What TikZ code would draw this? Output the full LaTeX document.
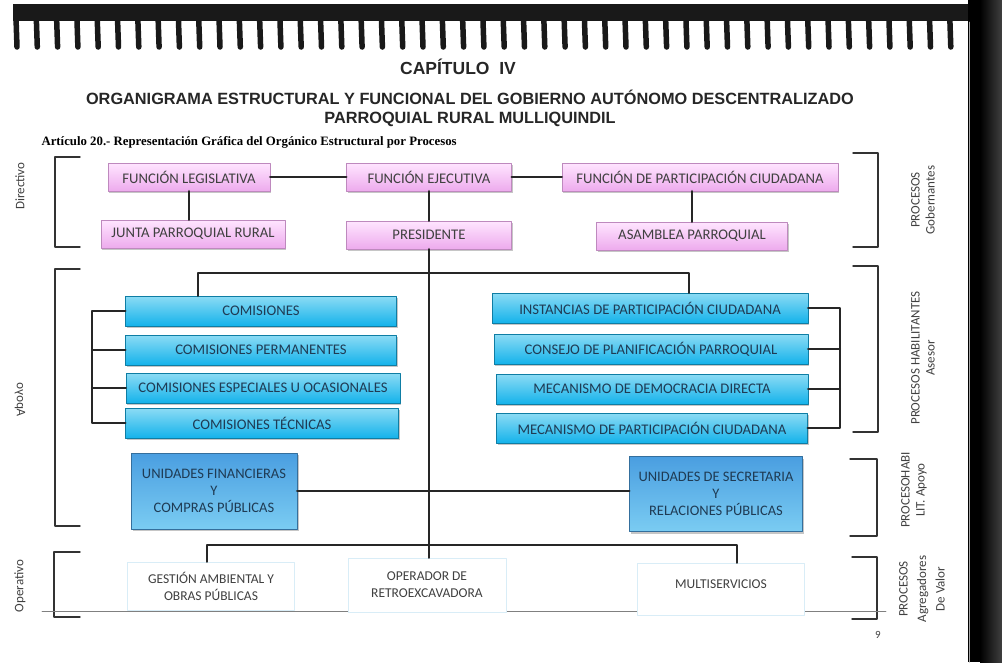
\documentclass[tikz,border=0pt]{standalone}
\usepackage{fontspec}
\setmainfont{Carlito}
\newfontfamily\titlefont{Liberation Sans}
\newfontfamily\artfont{Liberation Serif}
\usetikzlibrary{shadows}
\definecolor{ffe6ff}{rgb}{1,0.9,1}
\definecolor{eeaaee}{rgb}{0.93,0.67,0.93}
\definecolor{8cdcf5}{rgb}{0.55,0.86,0.96}
\definecolor{14b4ec}{rgb}{0.08,0.7,0.92}
\definecolor{4a9ee0}{rgb}{0.29,0.62,0.88}
\definecolor{7acdf2}{rgb}{0.48,0.8,0.95}
\definecolor{1f3a55}{rgb}{0.12,0.23,0.33}
\definecolor{qq4040}{rgb}{0.25,0.25,0.25}
\definecolor{d8eef8}{rgb}{0.85,0.93,0.97}
\tikzset{
  pinkbox/.style={top color=ffe6ff,bottom color=eeaaee,draw=eeaaee!80!black,line width=0.3pt,
    minimum height=28pt,inner sep=0pt,text=qq4040,font=\fontsize{14.7}{16}\selectfont,
    drop shadow={shadow xshift=1pt,shadow yshift=-2pt,opacity=0.45}},
  bluebox/.style={top color=8cdcf5,bottom color=14b4ec,draw=14b4ec!70!black,line width=0.3pt,
    minimum height=30pt,inner sep=0pt,text=1f3a55,font=\fontsize{14.7}{16}\selectfont,
    drop shadow={shadow xshift=1pt,shadow yshift=-2pt,opacity=0.45}},
  darkbox/.style={top color=4a9ee0,bottom color=7acdf2,draw=4a9ee0!70!black,line width=0.3pt,
    inner sep=0pt,text=1f3a55,align=center,font=\fontsize{14.5}{17}\selectfont,
    drop shadow={shadow xshift=1.5pt,shadow yshift=-2pt,opacity=0.45}},
  whitebox/.style={draw=d8eef8,fill=white,line width=0.6pt,inner sep=0pt,text=qq4040,
    align=center,font=\fontsize{13.5}{17}\selectfont},
  conn/.style={line width=2.4pt,color=black!85},
  brk/.style={line width=1.4pt,color=black!80},
  lbl/.style={text=qq4040,align=center,font=\fontsize{13}{15}\selectfont}
}
\begin{document}
\begin{tikzpicture}[line cap=round,line join=round,x=1pt,y=-1pt]
\useasboundingbox (0,0) rectangle (1002,662);
	% binding and page edge
	\fill[black!90] (13,4) rectangle (968,21);
	\foreach \i in {0,...,46}
		\draw[line width=5.5pt,color=black!90] ({16+20.3*\i},18) -- ({17+20.3*\i},47);
	\fill[black] (968,0) rectangle (1002,662);
	\fill[left color=black,right color=black!75] (980,0) rectangle (1002,662);
	\draw[gray!70,line width=1pt] (969.5,22) -- (969.5,662);
	% headings
	\node[font=\titlefont\bfseries\fontsize{17.5}{19}\selectfont,text=black!85] (cap) at (458,67) {CAPÍTULO\ \ IV};
	\node[font=\titlefont\bfseries\fontsize{16.3}{19}\selectfont,text=black!85,align=center] (tit) at (470,108)
		{ORGANIGRAMA ESTRUCTURAL Y FUNCIONAL DEL GOBIERNO AUTÓNOMO DESCENTRALIZADO\\PARROQUIAL RURAL MULLIQUINDIL};
	\node[font=\artfont\bfseries\fontsize{12.8}{14}\selectfont,anchor=west] (art) at (38,142)
		{Artículo 20.- Representación Gráfica del Orgánico Estructural por Procesos};
	% brackets
	\draw[brk] (80,157) -- (55,157) -- (55,247) -- (80,247);
	\draw[brk] (80,269) -- (55,269) -- (55,526) -- (80,526);
	\draw[brk] (80,552) -- (54,552) -- (54,617) -- (80,617);
	\draw[brk] (853,153) -- (878,153) -- (878,247) -- (853,247);
	\draw[brk] (853,266) -- (878,266) -- (878,432) -- (853,432);
	\draw[brk] (850,459) -- (877,459) -- (877,536) -- (850,536);
	\draw[brk] (852,557) -- (877,557) -- (877,619) -- (852,619);
	\draw[gray,line width=0.6pt] (42,611) -- (886,611);
	\node[lbl,rotate=90] (ldir) at (20,186) {Directivo};
	\node[lbl,cm={0,1,1,0,(0,0)}] (lapo) at (20,400) {Apoyo};
	\node[lbl,rotate=90] (lope) at (20,586) {Operativo};
	\node[lbl,rotate=90] (rgob) at (923,200) {PROCESOS\\Gobernantes};
	\node[lbl,rotate=90] (rase) at (923,358) {PROCESOS HABILITANTES\\Asesor};
	\node[lbl,rotate=90] (rapo) at (914,490) {PROCESOHABI\\LIT. Apoyo};
	\node[lbl,rotate=90,font=\fontsize{13}{18.5}\selectfont] (ragr) at (922,589) {PROCESOS\\Agregadores\\De Valor};
	\node[lbl,font=\fontsize{11}{13}\selectfont] (pag) at (878,635) {9};
	% directivo
	\node[pinkbox,minimum width=162pt] (leg) at (189,177) {FUNCIÓN LEGISLATIVA};
	\node[pinkbox,minimum width=165pt] (ejec) at (429,177) {FUNCIÓN EJECUTIVA};
	\node[pinkbox,minimum width=276pt] (part) at (700,177) {FUNCIÓN DE PARTICIPACIÓN CIUDADANA};
	\node[pinkbox,minimum width=184pt] (junta) at (193,234) {JUNTA PARROQUIAL RURAL};
	\node[pinkbox,minimum width=165pt] (pres) at (429,235) {PRESIDENTE};
	\node[pinkbox,minimum width=191pt] (asam) at (692,236) {ASAMBLEA PARROQUIAL};
	% apoyo
	\node[bluebox,minimum width=271pt] (com1) at (261,311) {COMISIONES};
	\node[bluebox,minimum width=271pt] (com2) at (261,350) {COMISIONES PERMANENTES};
	\node[bluebox,minimum width=274pt] (com3) at (263,388) {COMISIONES ESPECIALES U OCASIONALES};
	\node[bluebox,minimum width=273pt] (com4) at (262,423) {COMISIONES TÉCNICAS};
	\node[bluebox,minimum width=316pt] (ins) at (650,308) {INSTANCIAS DE PARTICIPACIÓN CIUDADANA};
	\node[bluebox,minimum width=314pt] (con) at (651,349) {CONSEJO DE PLANIFICACIÓN PARROQUIAL};
	\node[bluebox,minimum width=312pt] (dem) at (652,389) {MECANISMO DE DEMOCRACIA DIRECTA};
	\node[bluebox,minimum width=311pt] (mpc) at (652,428) {MECANISMO DE PARTICIPACIÓN CIUDADANA};
	\node[darkbox,minimum width=166pt,minimum height=76pt] (fin) at (214,491) {UNIDADES FINANCIERAS\\Y\\COMPRAS PÚBLICAS};
	\node[darkbox,minimum width=173pt,minimum height=75pt] (sec) at (716,494) {UNIDADES DE SECRETARIA\\Y\\RELACIONES PÚBLICAS};
	% operativo
	\node[whitebox,minimum width=167pt,minimum height=48pt] (ges) at (211,586) {GESTIÓN AMBIENTAL Y\\OBRAS PÚBLICAS};
	\node[whitebox,minimum width=158pt,minimum height=54pt] (ope) at (427,585) {OPERADOR DE\\RETROEXCAVADORA};
	\node[whitebox,minimum width=167pt,minimum height=52pt] (mul) at (721,589) {\raisebox{9pt}{MULTISERVICIOS}};
	% connectors
	\draw[conn] (leg) -- (ejec);
	\draw[conn] (ejec) -- (part);
	\draw[conn] (leg) -- (leg |- junta.north);
	\draw[conn] (ejec) -- (pres);
	\draw[conn] (asam |- part.south) -- (asam);
	\draw[conn] (pres.south) -- (pres.south |- ope.north);
	\coordinate (bla) at (198,273);
	\coordinate (blb) at (689,273);
	\draw[conn] (bla |- com1.north) -- (bla) -- (blb) -- (blb |- ins.north);
	\coordinate (cl) at (92,0);
	\coordinate (cr) at (840,0);
	\draw[conn] (com1.west) -- (com1.west -| cl) -- (com4.west -| cl) -- (com4.west);
	\foreach \n in {com2,com3}
		\draw[conn] (\n.west) -- (\n.west -| cl);
	\draw[conn] (ins.east) -- (ins.east -| cr) -- (mpc.east -| cr) -- (mpc.east);
	\foreach \n in {con,dem}
		\draw[conn] (\n.east) -- (\n.east -| cr);
	\draw[conn] (fin.east) -- (fin.east -| sec.west);
	\coordinate (bbla) at (207,545);
	\coordinate (bblb) at (737,545);
	\draw[conn] (bbla |- ges.north) -- (bbla) -- (bblb) -- (bblb |- mul.north);
\end{tikzpicture}
\end{document}
